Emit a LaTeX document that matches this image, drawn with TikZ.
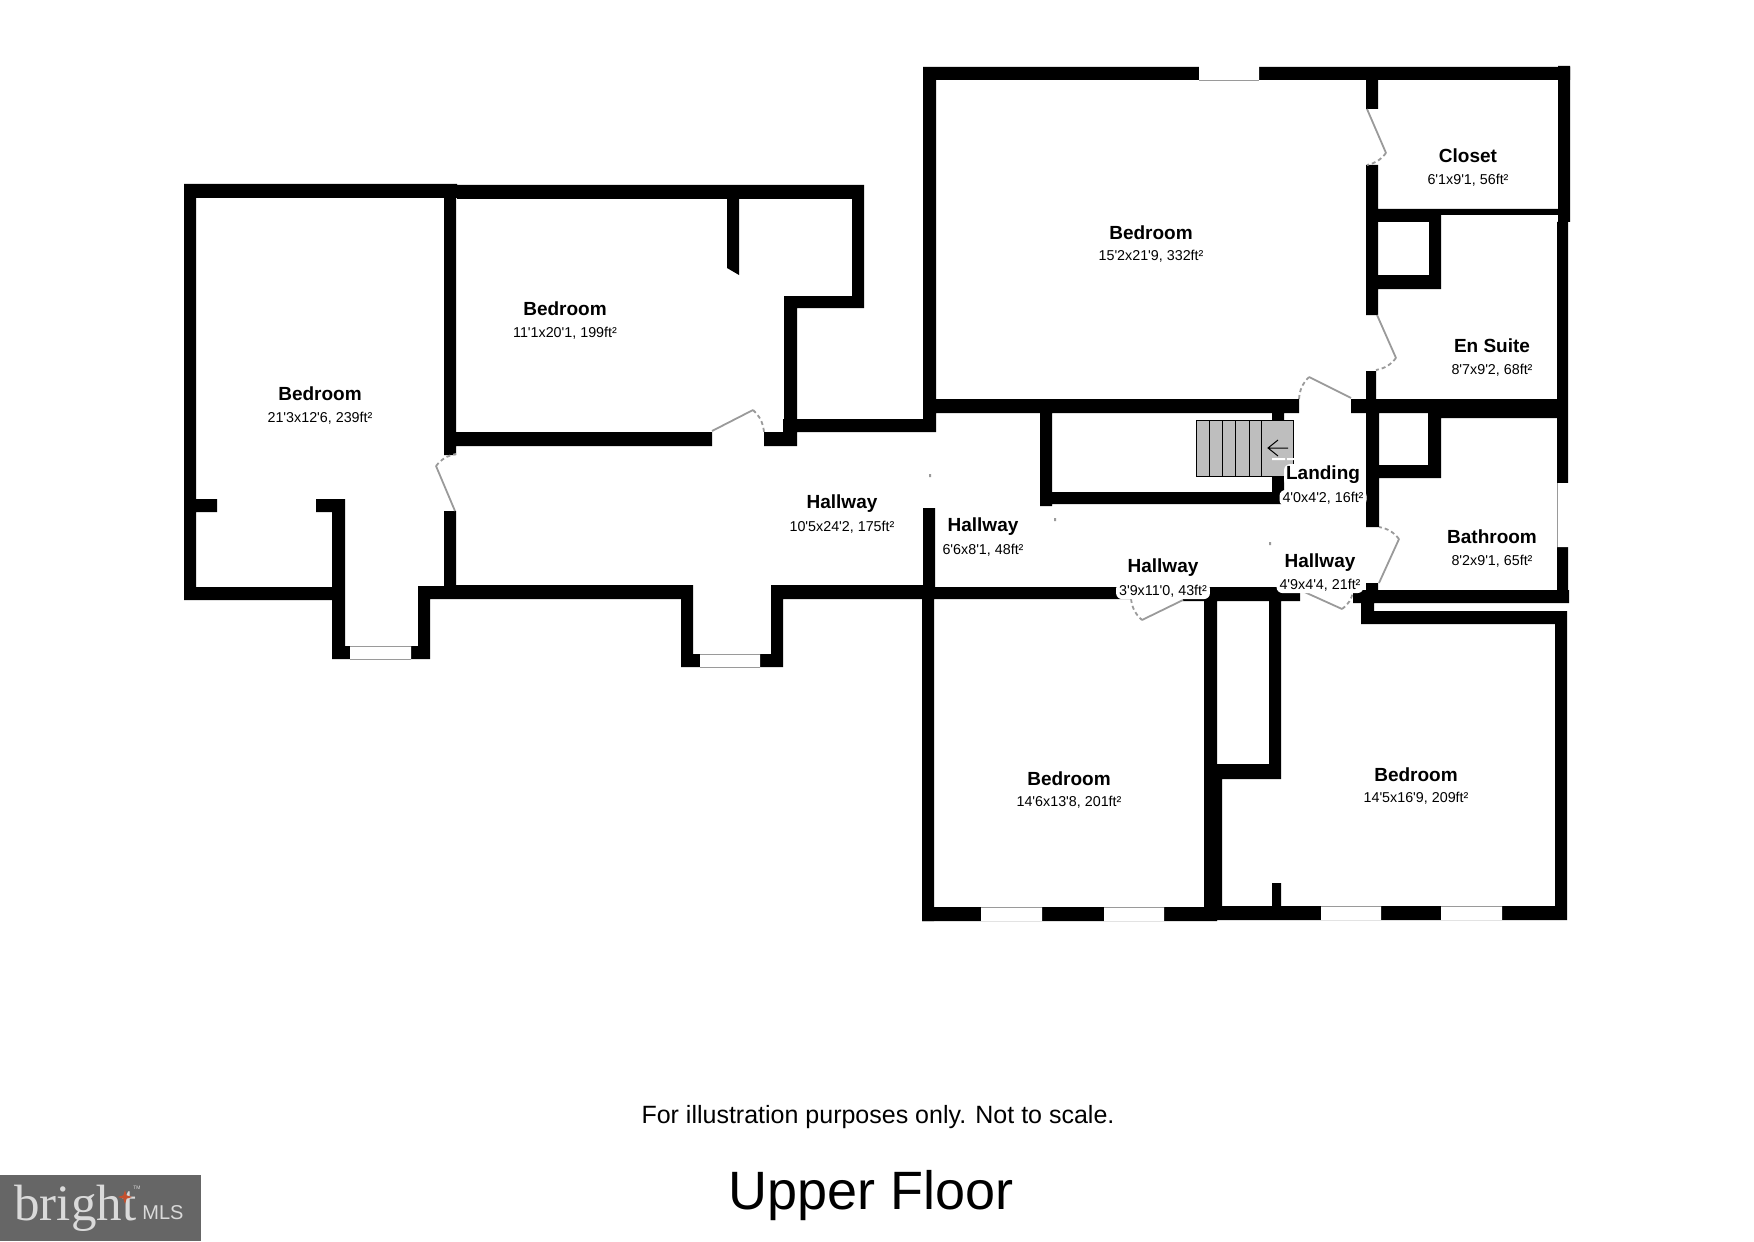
\documentclass[tikz,border=0pt]{standalone}
\usepackage{amsmath, amssymb, amsfonts, tikz}
\usepackage{fontspec}
\usetikzlibrary{shapes.geometric}
\newfontfamily\plansans{Liberation Sans}
\newfontfamily\planserif{Liberation Serif}
\definecolor{doorgray}{HTML}{9A9A9A}
\definecolor{stairgray}{HTML}{BEBEBE}
\definecolor{logogray}{HTML}{666666}
\definecolor{logotext}{HTML}{DADADA}
\definecolor{logostar}{HTML}{C4502E}

\begin{document}
\begin{tikzpicture}[x=0.5pt,y=-0.5pt,
    wall/.style={fill=black},
    pane/.style={fill=white},
    paneedge/.style={draw=doorgray,line width=0.4pt},
    leaf/.style={draw=doorgray,line width=0.9pt},
    swing/.style={draw=doorgray,line width=0.9pt,dash pattern=on 2pt off 1.5pt},
    roomname/.style={inner sep=0pt,font=\plansans\bfseries\fontsize{9.5}{10}\selectfont},
    roomdim/.style={inner sep=0pt,font=\plansans\fontsize{7.15}{8}\selectfont},
    halo/.style={fill=white,rounded corners=3pt,inner xsep=1.5pt,inner ysep=1pt}]%
        \useasboundingbox (0,0) rectangle (1754,1241);
        \fill[wall] (184,184) rectangle (457,198) (457,185) rectangle (864,199)
 (184,184) rectangle (196,600) (184,587) rectangle (345,600) (184,499) rectangle (217,512)
 (316,499) rectangle (345,512) (332,499) rectangle (345,659) (332,646) rectangle (430,659)
 (418,586) rectangle (430,659) (418,586) rectangle (457,599) (444,198) rectangle (456,455)
 (444,511) rectangle (456,599) (456,585) rectangle (693,599) (681,585) rectangle (693,667)
 (681,654) rectangle (783,667) (771,585) rectangle (783,667) (771,585) rectangle (923,599)
 (923,587) rectangle (1131,599)
 (923,508) rectangle (935,599) (922,599) rectangle (934,921) (456,432) rectangle (712,446)
 (764,432) rectangle (797,446) (784,296) rectangle (797,432) (784,296) rectangle (864,308)
 (852,185) rectangle (864,308) (783,419) rectangle (936,432) (923,67) rectangle (936,432)
 (923,399) rectangle (1299,413) (923,67) rectangle (1570,80) (1040,399) rectangle (1052,506)
 (1040,492) rectangle (1293,504) (1272,413) rectangle (1284,504);
        \fill[wall] (727,199) -- (739,199) -- (739,275) -- (727,268) -- cycle;
        \fill[wall] (1366,80) rectangle (1378,109) (1366,165) rectangle (1378,315)
 (1366,209) rectangle (1558,215) (1366,209) rectangle (1441,222) (1429,209) rectangle (1441,289)
 (1366,275) rectangle (1441,289) (1558,66) rectangle (1570,222) (1557,222) rectangle (1568,413)
 (1366,371) rectangle (1376,399) (1351,399) rectangle (1568,413) (1441,413) rectangle (1568,418)
 (1366,413) rectangle (1379,527) (1428,413) rectangle (1441,478) (1379,465) rectangle (1441,478)
 (1557,413) rectangle (1568,603) (1353,590) rectangle (1569,603) (1366,583) rectangle (1378,590)
 (1361,603) rectangle (1374,624) (1361,611) rectangle (1567,624) (1555,624) rectangle (1567,920)
 (1183,587) rectangle (1300,601) (1204,599) rectangle (1217,921) (1269,601) rectangle (1281,779)
 (1205,764) rectangle (1281,779) (1205,779) rectangle (1222,920) (922,907) rectangle (1217,921)
 (1217,906) rectangle (1567,920) (1272,883) rectangle (1281,907);
        \fill[pane] (350,646) rectangle (411,659) (700,654) rectangle (760,667)
 (1199,66) rectangle (1259,80) (1557,483) rectangle (1569,547) (981,907) rectangle (1042,921)
 (1104,907) rectangle (1164,921) (1321,906) rectangle (1381,920) (1441,906) rectangle (1502,920);
        \draw[paneedge] (350,646) -- (411,646) (350,659) -- (411,659) (700,654) -- (760,654)
 (700,667) -- (760,667) (1199,80) -- (1259,80)
 (1557,483) -- (1557,547) (981,907) -- (1042,907) (1104,907) -- (1164,907)
 (1321,906) -- (1381,906) (1441,906) -- (1502,906);
        \draw[leaf] (455,511) -- (436,466) (712,431) -- (753,410) (1367,109) -- (1386,153)
 (1377,315) -- (1396,358) (1309,377) -- (1351,398) (1379,583) -- (1399,539)
 (1300,590) -- (1342,609) (1142,620) -- (1183,600);
        \draw[swing] (436,466) to[bend left=20] (456,454);
        \draw[swing] (753,410) to[bend left=20] (764,432);
        \draw[swing] (1386,153) to[bend left=20] (1367,165);
        \draw[swing] (1396,358) to[bend left=20] (1376,370);
        \draw[swing] (1299,399) to[bend left=20] (1309,377);
        \draw[swing] (1399,539) to[bend right=20] (1379,527);
        \draw[swing] (1342,609) to[bend right=20] (1353,592);
        \draw[swing] (1131,599) to[bend right=20] (1142,620);
        \fill[doorgray] (929,474) rectangle (931,477) (1054,518) rectangle (1056,521) (1269,542) rectangle (1271,545);
        \draw[fill=stairgray,line width=0.5pt] (1196,420) rectangle (1293,476);
        \draw[line width=0.5pt] (1209,420) -- (1209,476) (1222,420) -- (1222,476)
 (1235,420) -- (1235,476) (1249,420) -- (1249,476) (1261,420) -- (1261,476);
        \draw[line width=0.5pt] (1268,448) -- (1288,448) (1278,440) -- (1268,448) -- (1278,456);
        \fill[white] (1272,458) rectangle (1285,460) (1287,458) rectangle (1294,460);
        \node[roomname] (bedroomwest) at (320,394) {Bedroom};
        \node[roomdim] (bedroomwestdim) at (320,418) {21'3x12'6, 239ft²};
        \node[roomname] (bedroomnorth) at (565,309) {Bedroom};
        \node[roomdim] (bedroomnorthdim) at (565,333) {11'1x20'1, 199ft²};
        \node[roomname] (bedroommain) at (1151,233) {Bedroom};
        \node[roomdim] (bedroommaindim) at (1151,256) {15'2x21'9, 332ft²};
        \node[roomname] (closet) at (1468,156) {Closet};
        \node[roomdim] (closetdim) at (1468,180) {6'1x9'1, 56ft²};
        \node[roomname] (ensuite) at (1492,346) {En Suite};
        \node[roomdim] (ensuitedim) at (1492,370) {8'7x9'2, 68ft²};
        \node[roomname] (hallwest) at (842,504) {Hallway};
        \node[roomdim] (hallwestdim) at (842,527) {10'5x24'2, 175ft²};
        \node[roomname] (hallmid) at (983,527) {Hallway};
        \node[roomdim] (hallmiddim) at (983,550) {6'6x8'1, 48ft²};
        \node[roomname] (halleast) at (1163,568) {Hallway};
        \node[roomdim,halo] (halleastdim) at (1163,591) {3'9x11'0, 43ft²};
        \node[roomname] (hallend) at (1320,563) {Hallway};
        \node[roomdim,halo] (hallenddim) at (1320,585) {4'9x4'4, 21ft²};
        \node[roomname,halo,inner sep=1pt] (landing) at (1323,475) {Landing};
        \node[roomdim,halo] (landingdim) at (1323,498) {4'0x4'2, 16ft²};
        \node[roomname] (bathroom) at (1492,537) {Bathroom};
        \node[roomdim] (bathroomdim) at (1492,561) {8'2x9'1, 65ft²};
        \node[roomname] (bedroomsouth) at (1069,779) {Bedroom};
        \node[roomdim] (bedroomsouthdim) at (1069,802) {14'6x13'8, 201ft²};
        \node[roomname] (bedroomeast) at (1416,775) {Bedroom};
        \node[roomdim] (bedroomeastdim) at (1416,798) {14'5x16'9, 209ft²};
        \node[inner sep=0pt,font=\plansans\fontsize{12.5}{14}\selectfont] (disclaimer) at (878,1117) {For illustration purposes only. Not to scale.};
        \node[inner sep=0pt,font=\plansans\fontsize{27}{30}\selectfont] (floorname) at (871,1196) {Upper Floor};
        \fill[logogray] (0,1175) rectangle (201,1241);
        \node[inner sep=0pt,anchor=west,text=logotext,font=\planserif\fontsize{25.5}{26}\selectfont] (logobright) at (14,1208) {bright};
        \node[inner sep=0pt,anchor=west,text=logotext,font=\plansans\fontsize{10}{10}\selectfont] (logomls) at (142,1213) {MLS};
        \node[star,star points=4,star point ratio=3,fill=logostar,inner sep=0pt,minimum size=7pt] (logostar) at (125,1197) {};
        \node[inner sep=0pt,text=logotext,font=\plansans\fontsize{2.5}{3}\selectfont] (logotm) at (137,1188) {TM};
\end{tikzpicture}
\end{document}
